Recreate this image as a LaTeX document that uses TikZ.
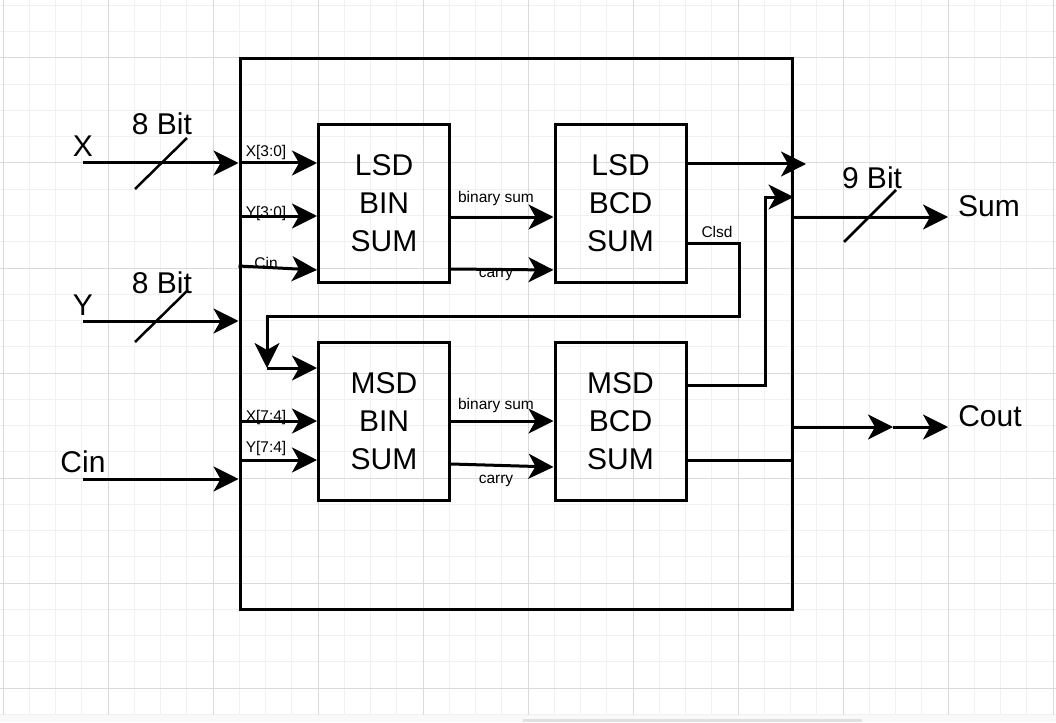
\documentclass[tikz,border=0pt]{standalone}
\usepackage{fontspec}
\setmainfont{Liberation Sans}
\usetikzlibrary{arrows.meta}
\definecolor{gminor}{HTML}{F1F1F1}
\definecolor{gmajor}{HTML}{DADADA}
\definecolor{strip}{HTML}{F9F9F9}
\definecolor{sbar}{HTML}{E0E0E0}
\begin{document}
\begin{tikzpicture}[x=1pt,y=-1pt,
  wire/.style={line width=3pt, line join=miter},
  arr/.style={wire, -{Stealth[length=25pt,width=25pt,inset=7pt]}},
  blk/.style={draw, line width=3pt, minimum width=131pt, minimum height=158pt, inner sep=0pt, align=center, font=\fontsize{30}{38}\selectfont},
  big/.style={font=\fontsize{30}{36}\selectfont, anchor=base, inner sep=0pt},
  small/.style={font=\fontsize{15.5}{18}\selectfont, anchor=base, inner sep=0pt},
  slash/.style={line width=2.5pt},
  ]
\useasboundingbox (0,0) rectangle (1056,722);
% background grid
\fill[white] (0,0) rectangle (1056,722);
\foreach \k in {0,...,40} {
  \pgfmathsetmacro{\gx}{3+\k*26.25}
  \draw[gminor, line width=1pt] (\gx,0) -- (\gx,715);
}
\foreach \k in {0,...,27} {
  \pgfmathsetmacro{\gy}{5.5+\k*26.25}
  \draw[gminor, line width=1pt] (0,\gy) -- (1056,\gy);
}
\foreach \k in {0,...,10} {
  \pgfmathsetmacro{\gx}{3+\k*105}
  \draw[gmajor, line width=1pt] (\gx,0) -- (\gx,715);
}
\foreach \k in {0,...,6} {
  \pgfmathsetmacro{\gy}{58+\k*105}
  \draw[gmajor, line width=1pt] (0,\gy) -- (1056,\gy);
}
\fill[strip] (0,715) rectangle (1056,722);
\fill[sbar] (523,718.5) rectangle (862,722);

% main box and blocks
\node[draw, line width=3pt, minimum width=552pt, minimum height=550pt, inner sep=0pt] (top) at (516,334) {};
\node[blk] (lbin) at (384,203.5) {LSD\\BIN\\SUM};
\node[blk] (lbcd) at (620.5,203.5) {LSD\\BCD\\SUM};
\node[blk] (mbin) at (384,421) {MSD\\BIN\\SUM};
\node[blk] (mbcd) at (620.5,421) {MSD\\BCD\\SUM};

% external inputs
\coordinate (inX) at (83,163);
\coordinate (inY) at (83,321);
\coordinate (inC) at (83,479);
\draw[arr] (inX) -- (inX -| top.west);
\draw[arr] (inY) -- (inY -| top.west);
\draw[arr] (inC) -- (inC -| top.west);
\draw[slash] (135,189) -- (187,138);
\draw[slash] (135,342) -- (187,291);
\node[big] (lx) at (83,157) {X};
\node[big] (ly) at (83,315) {Y};
\node[big] (lc) at (83,472) {Cin};
\node[big] (b1) at (162,135) {8 Bit};
\node[big] (b2) at (162,293) {8 Bit};

% internal inputs
\draw[arr] (top.west |- 0,163) -- (lbin.west |- 0,163);
\draw[arr] (top.west |- 0,216) -- (lbin.west |- 0,216);
\draw[arr] (top.west |- 0,266) -- (lbin.west |- 0,270);
\draw[arr] (top.west |- 0,421) -- (mbin.west |- 0,421);
\draw[arr] (top.west |- 0,460) -- (mbin.west |- 0,460);
\node[small] (tx1) at (266,157) {X[3:0]};
\node[small] (ty1) at (266,217) {Y[3:0]};
\node[small] (tc1) at (266,268) {Cin};
\node[small] (tx2) at (266,421) {X[7:4]};
\node[small] (ty2) at (266,452) {Y[7:4]};

% between blocks
\draw[arr] (lbin.east |- 0,217) -- (lbcd.west |- 0,217);
\draw[arr] (lbin.east |- 0,269) -- (lbcd.west |- 0,270);
\draw[arr] (mbin.east |- 0,421) -- (mbcd.west |- 0,421);
\draw[arr] (mbin.east |- 0,464) -- (mbcd.west |- 0,467);
\node[small] (bs1) at (496,202) {binary sum};
\node[small] (ca1) at (496,277) {carry};
\node[small] (bs2) at (496,409) {binary sum};
\node[small] (ca2) at (496,483) {carry};

% Clsd feedback
\coordinate (c1) at (739,316);
\coordinate (c2) at (267,316);
\coordinate (c3) at (267,368);
\draw[arr] (lbcd.east |- 0,243) -- (739,243) -- (c1) -- (c2) -- (c3);
\draw[arr] (c3) -- (mbin.west |- c3);
\node[small] (cl) at (717,237) {Clsd};

% outputs
\coordinate (o1) at (806,164);
\draw[arr] (lbcd.east |- o1) -- (o1);
\coordinate (o2) at (765,197);
\draw[arr] (mbcd.east |- 0,385) -- (765,385) -- (o2) -- (top.east |- o2);
\draw[wire] (mbcd.east |- 0,460) -- (top.east |- 0,460);

\coordinate (sumEnd) at (948,217);
\draw[arr] (top.east |- sumEnd) -- (sumEnd);
\draw[slash] (844,242) -- (896,190);
\node[big] (b3) at (872,189) {9 Bit};
\node[big] (ls) at (989,216) {Sum};

\coordinate (coMid) at (893,427);
\coordinate (coEnd) at (948,427);
\draw[arr] (top.east |- coMid) -- (coMid);
\draw[arr] (coMid) -- (coEnd);
\node[big] (lco) at (990,426) {Cout};
\end{tikzpicture}
\end{document}
